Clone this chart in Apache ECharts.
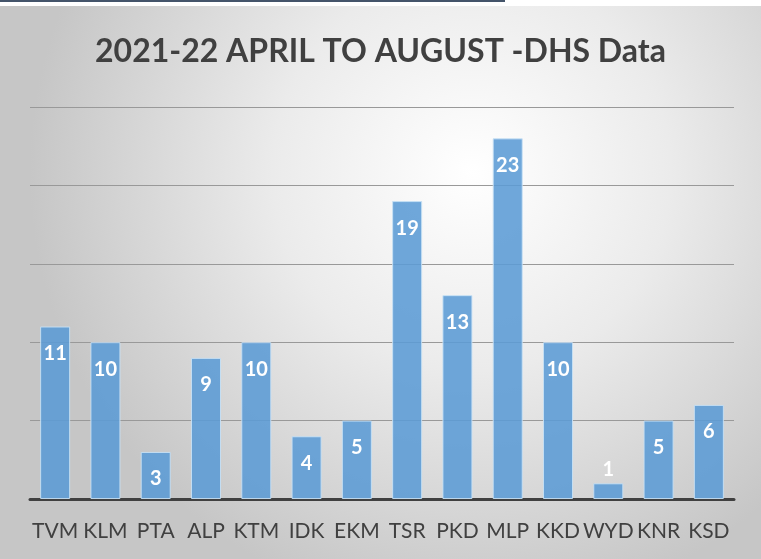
<!DOCTYPE html>
<html>
<head>
<meta charset="utf-8">
<script src="https://cdn.jsdelivr.net/npm/echarts@6/dist/echarts.min.js"></script>
<style>
  html, body { margin: 0; padding: 0; background: #fff; }
  #chart { width: 761px; height: 559px; }
</style>
</head>
<body>
<div id="chart"></div>
<script>
var districts = ['TVM', 'KLM', 'PTA', 'ALP', 'KTM', 'IDK', 'EKM', 'TSR', 'PKD', 'MLP', 'KKD', 'WYD', 'KNR', 'KSD'];
var cases = [11, 10, 3, 9, 10, 4, 5, 19, 13, 23, 10, 1, 5, 6];

document.addEventListener("DOMContentLoaded", () => {
    var chart = echarts.init(document.querySelector("#chart"));
    chart.setOption({
        backgroundColor: '#ffffff',
        graphic: [{
            type: 'rect',
            z: -10,
            shape: { x: 0, y: 6, width: 761, height: 553 },
            style: {
                fill: new echarts.graphic.RadialGradient(0.62, 0.3, 0.8, [
                    { offset: 0, color: '#ffffff' },
                    { offset: 0.45, color: '#ebebeb' },
                    { offset: 1, color: '#c6c6c6' }
                ])
            },
            silent: true
        }, {
            type: 'rect',
            shape: { x: 0, y: 0, width: 505, height: 2 },
            style: { fill: '#44546a' },
            silent: true
        }],
        title: {
            text: '2021-22 APRIL TO AUGUST -DHS Data',
            left: 'center',
            top: 31,
            textStyle: {
                fontFamily: 'Lato',
                fontSize: 32,
                fontWeight: 'bold',
                color: '#404040'
            }
        },
        grid: {
            left: 30,
            right: 27,
            top: 107,
            bottom: 60
        },
        xAxis: {
            type: 'category',
            data: districts,
            axisLine: { lineStyle: { color: '#404040', width: 3 } },
            axisTick: { show: false },
            axisLabel: {
                interval: 0,
                fontFamily: 'Lato',
                fontSize: 21,
                color: '#404040',
                margin: 22
            }
        },
        yAxis: {
            type: 'value',
            min: 0,
            max: 25,
            interval: 5,
            axisLabel: { show: false },
            axisLine: { show: false },
            axisTick: { show: false },
            splitLine: { lineStyle: { color: '#999999', width: 1 } }
        },
        series: [{
            type: 'bar',
            barWidth: 30,
            data: cases.map(v => v < 2 ? { value: v, label: { position: 'top', distance: 4 } } : v),
            itemStyle: {
                color: 'rgba(91,155,213,0.88)',
                borderColor: 'rgba(200,225,245,0.9)',
                borderWidth: 1
            },
            label: {
                show: true,
                position: 'insideTop',
                distance: 17,
                fontFamily: 'Lato',
                fontSize: 20,
                fontWeight: 'bold',
                color: '#ffffff'
            }
        }]
    });
});
</script>
</body>
</html>
